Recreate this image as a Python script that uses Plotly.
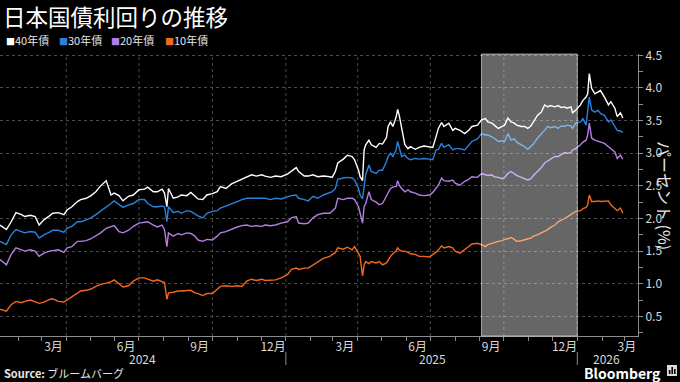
import plotly.graph_objects as go
import pandas as pd

# ---------------- data ----------------
dates = [
    "2024-01-09", "2024-01-17", "2024-01-23", "2024-01-29", "2024-02-05", "2024-02-09", "2024-02-16",
    "2024-02-22", "2024-02-27", "2024-03-04", "2024-03-11", "2024-03-15", "2024-03-22", "2024-03-29",
    "2024-04-02", "2024-04-08", "2024-04-15", "2024-04-19", "2024-04-26", "2024-05-02", "2024-05-08",
    "2024-05-14", "2024-05-21", "2024-05-27", "2024-05-31", "2024-06-06", "2024-06-11", "2024-06-18",
    "2024-06-24", "2024-07-01", "2024-07-08", "2024-07-12", "2024-07-19", "2024-07-24", "2024-07-30",
    "2024-08-02", "2024-08-05", "2024-08-07", "2024-08-13", "2024-08-19", "2024-08-23", "2024-08-30",
    "2024-09-04", "2024-09-09", "2024-09-13", "2024-09-19", "2024-09-24", "2024-10-01", "2024-10-07",
    "2024-10-11", "2024-10-18", "2024-10-25", "2024-11-01", "2024-11-07", "2024-11-13", "2024-11-19",
    "2024-11-25", "2024-12-02", "2024-12-06", "2024-12-13", "2024-12-19", "2024-12-26", "2025-01-03",
    "2025-01-08", "2025-01-14", "2025-01-17", "2025-01-24", "2025-01-29", "2025-02-04", "2025-02-10",
    "2025-02-17", "2025-02-25", "2025-02-28", "2025-03-04", "2025-03-07", "2025-03-14", "2025-03-19",
    "2025-03-25", "2025-03-28", "2025-04-02", "2025-04-04", "2025-04-07", "2025-04-09", "2025-04-11",
    "2025-04-15", "2025-04-18", "2025-04-24", "2025-04-28", "2025-05-02", "2025-05-07", "2025-05-09",
    "2025-05-12", "2025-05-15", "2025-05-19", "2025-05-21", "2025-05-23", "2025-05-26", "2025-05-30",
    "2025-06-03", "2025-06-06", "2025-06-12", "2025-06-17", "2025-06-23", "2025-06-30", "2025-07-04",
    "2025-07-08", "2025-07-11", "2025-07-15", "2025-07-18", "2025-07-24", "2025-07-29", "2025-08-01",
    "2025-08-07", "2025-08-13", "2025-08-18", "2025-08-22", "2025-08-29", "2025-09-03", "2025-09-08",
    "2025-09-11", "2025-09-16", "2025-09-19", "2025-09-24", "2025-09-29", "2025-10-02", "2025-10-06",
    "2025-10-10", "2025-10-14", "2025-10-17", "2025-10-23", "2025-10-27", "2025-10-31", "2025-11-04",
    "2025-11-07", "2025-11-12", "2025-11-17", "2025-11-21", "2025-11-25", "2025-11-28", "2025-12-04",
    "2025-12-08", "2025-12-12", "2025-12-16", "2025-12-19", "2025-12-24", "2025-12-26", "2025-12-30",
    "2026-01-05", "2026-01-08", "2026-01-12", "2026-01-14", "2026-01-16", "2026-01-19", "2026-01-23",
    "2026-01-27", "2026-01-30", "2026-02-04", "2026-02-09", "2026-02-12", "2026-02-17", "2026-02-20",
    "2026-02-24", "2026-02-27",
]

y40 = [
    1.90, 1.83, 1.95, 2.09, 2.06, 2.03, 2.05, 2.03, 1.90, 1.98, 2.04, 2.08, 2.09, 2.06,
    2.13, 2.18, 2.26, 2.29, 2.31, 2.35, 2.41, 2.50, 2.58, 2.36, 2.39, 2.35, 2.27, 2.34,
    2.36, 2.44, 2.45, 2.48, 2.41, 2.41, 2.45, 2.39, 2.18, 2.46, 2.31, 2.33, 2.36, 2.35,
    2.40, 2.34, 2.30, 2.29, 2.36, 2.38, 2.41, 2.49, 2.46, 2.53, 2.57, 2.60, 2.64, 2.67,
    2.65, 2.67, 2.65, 2.63, 2.65, 2.64, 2.68, 2.73, 2.78, 2.72, 2.65, 2.65, 2.67, 2.64,
    2.65, 2.64, 2.63, 2.72, 2.85, 2.91, 2.97, 2.95, 2.90, 2.74, 2.64, 2.58, 3.05, 3.13,
    3.20, 3.13, 3.09, 3.15, 3.14, 3.24, 3.41, 3.48, 3.41, 3.55, 3.67, 3.58, 3.41, 3.13,
    3.07, 3.10, 3.06, 3.09, 3.11, 3.09, 3.09, 3.25, 3.38, 3.47, 3.41, 3.46, 3.35, 3.38,
    3.35, 3.30, 3.35, 3.41, 3.43, 3.51, 3.53, 3.48, 3.46, 3.43, 3.38, 3.41, 3.43, 3.54,
    3.48, 3.46, 3.43, 3.41, 3.41, 3.38, 3.42, 3.48, 3.58, 3.63, 3.74, 3.71, 3.73, 3.71,
    3.73, 3.70, 3.71, 3.69, 3.71, 3.62, 3.66, 3.74, 3.81, 3.86, 3.91, 4.22, 3.99, 3.91,
    3.94, 3.96, 3.86, 3.74, 3.79, 3.69, 3.56, 3.62, 3.54,
]

y30 = [
    1.65, 1.60, 1.75, 1.83, 1.80, 1.78, 1.80, 1.79, 1.70, 1.75, 1.79, 1.82, 1.82, 1.79,
    1.85, 1.88, 1.95, 1.95, 1.98, 2.01, 2.06, 2.11, 2.18, 2.23, 2.27, 2.21, 2.17, 2.21,
    2.23, 2.29, 2.29, 2.23, 2.18, 2.18, 2.19, 2.18, 1.95, 2.18, 2.09, 2.11, 2.08, 2.12,
    2.11, 2.07, 2.04, 2.01, 2.08, 2.11, 2.12, 2.16, 2.19, 2.23, 2.26, 2.29, 2.31, 2.31,
    2.31, 2.30, 2.31, 2.29, 2.31, 2.30, 2.33, 2.35, 2.36, 2.31, 2.29, 2.27, 2.34, 2.31,
    2.36, 2.39, 2.41, 2.46, 2.60, 2.62, 2.63, 2.62, 2.59, 2.46, 2.36, 2.30, 2.54, 2.67,
    2.82, 2.72, 2.69, 2.74, 2.74, 2.87, 2.95, 3.00, 2.95, 3.05, 3.18, 3.07, 2.95, 2.97,
    2.92, 2.90, 2.92, 2.91, 2.92, 2.91, 2.90, 3.05, 3.06, 3.15, 3.09, 3.13, 3.05, 3.07,
    3.07, 3.05, 3.13, 3.18, 3.22, 3.30, 3.28, 3.28, 3.25, 3.23, 3.18, 3.19, 3.18, 3.30,
    3.20, 3.22, 3.17, 3.13, 3.10, 3.06, 3.10, 3.14, 3.23, 3.29, 3.35, 3.41, 3.39, 3.41,
    3.38, 3.42, 3.41, 3.43, 3.42, 3.38, 3.46, 3.48, 3.53, 3.43, 3.63, 3.86, 3.66, 3.63,
    3.66, 3.61, 3.58, 3.48, 3.51, 3.41, 3.35, 3.34, 3.32,
]

y20 = [
    1.37, 1.29, 1.45, 1.55, 1.52, 1.50, 1.52, 1.50, 1.42, 1.47, 1.50, 1.51, 1.52, 1.48,
    1.55, 1.57, 1.65, 1.65, 1.66, 1.69, 1.73, 1.78, 1.85, 1.88, 1.89, 1.80, 1.78, 1.82,
    1.88, 1.93, 1.94, 1.95, 1.90, 1.87, 1.90, 1.83, 1.57, 1.78, 1.73, 1.77, 1.75, 1.78,
    1.77, 1.73, 1.67, 1.65, 1.68, 1.67, 1.73, 1.78, 1.80, 1.84, 1.87, 1.89, 1.90, 1.88,
    1.89, 1.88, 1.90, 1.89, 1.90, 1.93, 1.95, 2.01, 2.03, 1.93, 1.92, 1.93, 2.01, 2.06,
    2.08, 2.08, 2.11, 2.16, 2.31, 2.29, 2.31, 2.31, 2.29, 2.18, 2.08, 1.93, 2.18, 2.23,
    2.41, 2.29, 2.25, 2.21, 2.23, 2.34, 2.39, 2.46, 2.48, 2.49, 2.58, 2.51, 2.46, 2.41,
    2.44, 2.41, 2.39, 2.36, 2.35, 2.36, 2.40, 2.46, 2.51, 2.62, 2.58, 2.57, 2.59, 2.54,
    2.51, 2.57, 2.60, 2.64, 2.63, 2.69, 2.67, 2.66, 2.67, 2.64, 2.63, 2.61, 2.63, 2.69,
    2.72, 2.69, 2.66, 2.63, 2.61, 2.59, 2.61, 2.66, 2.72, 2.78, 2.85, 2.88, 2.91, 2.95,
    2.95, 2.98, 3.01, 3.00, 3.01, 3.05, 3.07, 3.13, 3.17, 3.20, 3.28, 3.46, 3.23, 3.20,
    3.18, 3.17, 3.15, 3.10, 3.07, 3.02, 2.92, 2.97, 2.91,
]

y10 = [
    0.61, 0.58, 0.68, 0.73, 0.71, 0.73, 0.75, 0.72, 0.70, 0.72, 0.76, 0.77, 0.73, 0.72,
    0.75, 0.80, 0.85, 0.89, 0.90, 0.92, 0.96, 0.99, 1.01, 1.03, 1.06, 1.00, 0.95, 0.97,
    1.04, 1.09, 1.09, 1.07, 1.04, 1.06, 1.04, 1.02, 0.76, 0.86, 0.87, 0.89, 0.89, 0.90,
    0.90, 0.86, 0.85, 0.82, 0.85, 0.85, 0.91, 0.96, 0.97, 0.96, 0.97, 0.96, 1.04, 1.07,
    1.05, 1.07, 1.05, 1.05, 1.06, 1.09, 1.14, 1.22, 1.24, 1.22, 1.24, 1.24, 1.29, 1.34,
    1.39, 1.42, 1.45, 1.48, 1.55, 1.53, 1.56, 1.52, 1.57, 1.47, 1.42, 1.12, 1.29, 1.34,
    1.31, 1.34, 1.32, 1.34, 1.29, 1.32, 1.37, 1.42, 1.46, 1.50, 1.55, 1.52, 1.50, 1.50,
    1.48, 1.46, 1.45, 1.42, 1.42, 1.41, 1.45, 1.48, 1.52, 1.58, 1.55, 1.57, 1.55, 1.50,
    1.47, 1.52, 1.57, 1.61, 1.62, 1.60, 1.57, 1.60, 1.62, 1.64, 1.65, 1.66, 1.68, 1.69,
    1.71, 1.68, 1.65, 1.66, 1.68, 1.69, 1.70, 1.73, 1.75, 1.78, 1.81, 1.83, 1.86, 1.90,
    1.95, 1.97, 2.00, 2.02, 2.06, 2.07, 2.11, 2.12, 2.15, 2.17, 2.21, 2.36, 2.26, 2.26,
    2.27, 2.26, 2.26, 2.27, 2.21, 2.16, 2.12, 2.16, 2.08,
]

series_names = ["40年債", "30年債", "20年債", "10年債"]
series_colors = ["#ffffff", "#2b82dc", "#b57ee6", "#f2691e"]
series_values = [y40, y30, y20, y10]

month_label_dates = ["2024-03-16", "2024-06-15", "2024-09-15", "2024-12-16",
                     "2025-03-16", "2025-06-15", "2025-09-15", "2025-12-16", "2026-03-04"]
month_labels = ["3月", "6月", "9月", "12月", "3月", "6月", "9月", "12月", "3月"]
year_labels = ["2024", "2025", "2026"]
year_label_dates = ["2024-07-06", "2025-07-04", "2026-02-07"]
year_starts = ["2025-01-01", "2026-01-01"]
quarter_starts = ["2024-04-01", "2024-07-01", "2024-10-01", "2025-01-01",
                  "2025-04-01", "2025-07-01", "2025-10-01", "2026-01-01"]
shade_period = ["2025-09-03", "2026-01-01"]
x_range = ["2024-01-09", "2026-03-18"]
y_ticks = [0.5, 1.0, 1.5, 2.0, 2.5, 3.0, 3.5, 4.0, 4.5]

FONT = "Noto Sans CJK JP"
GRID = "#4a4a4a"
AXIS = "#8c8c8c"
PW, PH, PB = 638, 282, 336  # plot width, plot height, plot bottom (px)


def px(x):
    return x / PW


def py(y):
    return (PB - y) / PH


fig = go.Figure()
for name, color, vals in zip(series_names, series_colors, series_values):
    fig.add_trace(go.Scatter(x=dates, y=vals, mode="lines", name=name,
                             line=dict(color=color, width=1.4), showlegend=False))

month_starts = [d.strftime("%Y-%m-%d") for d in pd.date_range("2024-02-01", "2026-03-01", freq="MS")]

fig.update_layout(
    width=680, height=382,
    margin=dict(l=0, r=42, t=54, b=46),
    paper_bgcolor="#000000", plot_bgcolor="#000000",
    font=dict(family=FONT, color="#e6e6e6", size=12),
    xaxis=dict(
        type="date", range=x_range,
        tickmode="array", tickvals=month_label_dates, ticktext=month_labels,
        ticks="", showgrid=False, zeroline=False,
        showline=True, linecolor=AXIS, linewidth=1,
        tickfont=dict(size=12, color="#d9d9d9", family=FONT),
        minor=dict(tickmode="array", tickvals=month_starts, ticks="outside",
                   ticklen=4, tickcolor=AXIS, showgrid=False),
    ),
    yaxis=dict(
        side="right", range=[0.2, 4.52],
        tickmode="array", tickvals=y_ticks, ticktext=[f"{v:.1f}" for v in y_ticks],
        showgrid=True, gridcolor=GRID, griddash="dot", gridwidth=1,
        zeroline=False, showline=True, linecolor=AXIS, linewidth=1,
        ticks="outside", ticklen=4, tickcolor=AXIS,
        tickfont=dict(size=12, color="#d9d9d9", family=FONT),
        minor=dict(dtick=0.25, tick0=0, ticks="outside", ticklen=4, tickcolor=AXIS, showgrid=False),
    ),
)

shapes = []
for d in quarter_starts:
    shapes.append(dict(type="line", xref="x", yref="paper", x0=d, x1=d, y0=0, y1=1,
                       line=dict(color=GRID, width=1, dash="dot"), layer="below"))
for d in year_starts:
    shapes.append(dict(type="line", xref="x", yref="paper", x0=d, x1=d, y0=py(352), y1=py(365),
                       line=dict(color=AXIS, width=1)))
shapes.append(dict(type="rect", xref="x", yref="paper", x0=shade_period[0], x1=shade_period[1],
                   y0=0, y1=1, fillcolor="rgba(255,255,255,0.40)",
                   line=dict(color="rgba(255,255,255,0.55)", width=1), layer="above"))
# Bloomberg icon (decoration)
shapes.append(dict(type="rect", xref="paper", yref="paper", x0=px(667), x1=px(677),
                   y0=py(376), y1=py(365), fillcolor="#dcdcdc", line=dict(width=0)))
for bx0, bx1, btop in [(668.8, 670.4, 370), (671.4, 673.0, 367), (674.0, 675.6, 369)]:
    shapes.append(dict(type="rect", xref="paper", yref="paper", x0=px(bx0), x1=px(bx1),
                       y0=py(374), y1=py(btop), fillcolor="#000000", line=dict(width=0)))
fig.update_layout(shapes=shapes)

ann = []
ann.append(dict(text="日本国債利回りの推移", xref="paper", yref="paper", x=px(1), y=py(16),
                xanchor="left", yanchor="middle", showarrow=False,
                font=dict(size=22.5, color="#ffffff", family=FONT)))
legend_x = [4, 57, 109, 163]
for name, color, lx in zip(series_names, series_colors, legend_x):
    ann.append(dict(text=f"<span style='font-size:9px;color:{color}'>■</span>{name}",
                    xref="paper", yref="paper", x=px(lx), y=py(40),
                    xanchor="left", yanchor="middle", showarrow=False,
                    font=dict(size=11, color="#e6e6e6", family=FONT)))
for lab, d in zip(year_labels, year_label_dates):
    ann.append(dict(text=lab, xref="x", yref="paper", x=d, y=py(358),
                    xanchor="center", yanchor="middle", showarrow=False,
                    font=dict(size=12, color="#d9d9d9", family=FONT)))
ann.append(dict(text="パーセント (%)", xref="paper", yref="paper", x=px(665), y=0.5,
                textangle=90, xanchor="center", yanchor="middle", showarrow=False,
                font=dict(size=16, color="#e6e6e6", family=FONT)))
ann.append(dict(text="<b>Source:</b> ブルームバーグ", xref="paper", yref="paper", x=px(2), y=py(373),
                xanchor="left", yanchor="middle", showarrow=False,
                font=dict(size=11, color="#e6e6e6", family=FONT)))
ann.append(dict(text="<b>Bloomberg</b>", xref="paper", yref="paper", x=px(663), y=py(373),
                xanchor="right", yanchor="middle", showarrow=False,
                font=dict(size=14, color="#ffffff", family=FONT)))
fig.update_layout(annotations=ann)

fig.write_html("out.html", config={"displayModeBar": False},
               post_script="document.body.style.margin='0';document.body.style.overflow='hidden';")
